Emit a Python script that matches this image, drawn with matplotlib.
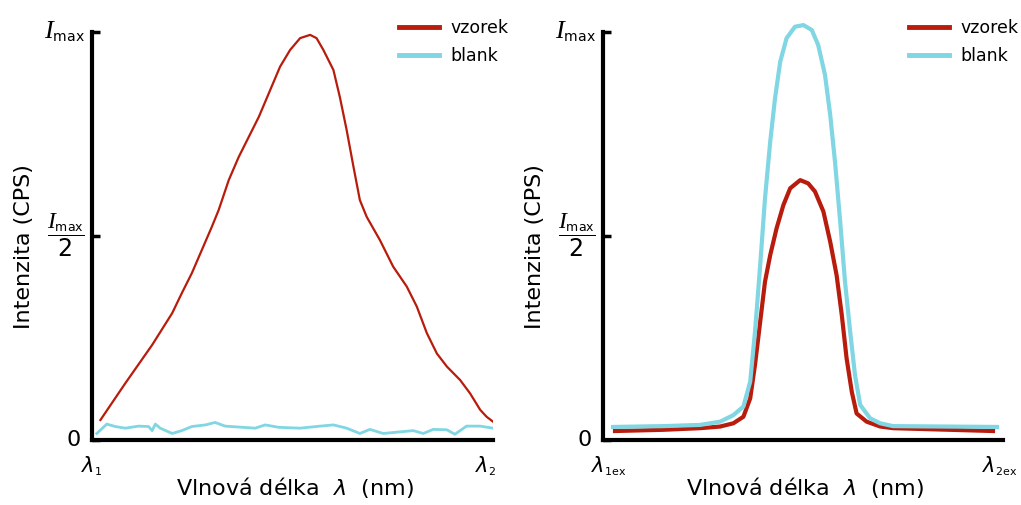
import numpy as np
import matplotlib
matplotlib.use("Agg")
import matplotlib.pyplot as plt
from matplotlib.transforms import ScaledTranslation
import matplotlib._mathtext as mt

plt.rcParams['font.family'] = ['DejaVu Sans']
plt.rcParams['mathtext.fontset'] = 'custom'
plt.rcParams['mathtext.rm'] = 'DejaVu Sans'
plt.rcParams['mathtext.it'] = 'Liberation Serif:italic'
plt.rcParams['mathtext.sf'] = 'DejaVu Sans:oblique'
# subscripts (max, 1ex) are much smaller than the main glyph in the original
mt.SHRINK_FACTOR = 0.53

RED = '#B81C0C'
BLUE = '#80D6E2'

# left panel: emission spectrum (relative intensity, Imax = 1)
em_x_vzorek = [0.021, 0.083, 0.150, 0.200, 0.224, 0.249, 0.274, 0.299, 0.316, 0.341,
               0.366, 0.391, 0.416, 0.441, 0.469, 0.494, 0.519, 0.544, 0.560, 0.577,
               0.602, 0.618, 0.635, 0.652, 0.668, 0.685, 0.718, 0.751, 0.785, 0.810,
               0.835, 0.860, 0.885, 0.918, 0.943, 0.968, 0.984, 1.0]
em_y_vzorek = [0.049, 0.139, 0.233, 0.311, 0.360, 0.409, 0.466, 0.523, 0.564, 0.637,
               0.694, 0.743, 0.792, 0.850, 0.915, 0.956, 0.985, 0.993, 0.985, 0.956,
               0.907, 0.841, 0.760, 0.670, 0.588, 0.547, 0.490, 0.425, 0.376, 0.327,
               0.262, 0.212, 0.180, 0.147, 0.114, 0.074, 0.057, 0.045]
em_x_blank = [0.012, 0.037, 0.058, 0.083, 0.116, 0.141, 0.150, 0.158, 0.170, 0.200,
              0.224, 0.249, 0.283, 0.307, 0.332, 0.407, 0.432, 0.466, 0.519, 0.569,
              0.602, 0.635, 0.668, 0.693, 0.726, 0.801, 0.826, 0.851, 0.885, 0.905,
              0.934, 0.968, 1.0]
em_y_blank = [0.016, 0.039, 0.033, 0.029, 0.034, 0.033, 0.023, 0.039, 0.029, 0.016,
              0.023, 0.033, 0.037, 0.043, 0.034, 0.029, 0.037, 0.031, 0.029, 0.034,
              0.037, 0.029, 0.016, 0.026, 0.016, 0.023, 0.016, 0.026, 0.025, 0.014,
              0.034, 0.034, 0.029]

# right panel: excitation spectrum
ex_x_vzorek = [0.030, 0.150, 0.243, 0.293, 0.326, 0.351, 0.368, 0.380, 0.393, 0.405,
               0.418, 0.434, 0.451, 0.468, 0.493, 0.513, 0.530, 0.551, 0.568, 0.584,
               0.597, 0.609, 0.622, 0.634, 0.659, 0.693, 0.725, 0.975]
ex_y_vzorek = [0.022, 0.025, 0.029, 0.033, 0.041, 0.057, 0.102, 0.184, 0.290, 0.388,
               0.453, 0.519, 0.576, 0.617, 0.637, 0.629, 0.609, 0.560, 0.486, 0.404,
               0.306, 0.200, 0.118, 0.065, 0.045, 0.033, 0.029, 0.022]
ex_x_blank = [0.025, 0.150, 0.243, 0.293, 0.326, 0.351, 0.368, 0.380, 0.393, 0.405,
              0.418, 0.430, 0.443, 0.459, 0.480, 0.501, 0.522, 0.538, 0.555, 0.568,
              0.580, 0.593, 0.605, 0.618, 0.630, 0.643, 0.668, 0.693, 0.725, 0.985]
ex_y_blank = [0.032, 0.034, 0.037, 0.045, 0.061, 0.082, 0.143, 0.265, 0.429, 0.592,
              0.731, 0.837, 0.927, 0.985, 1.013, 1.017, 1.005, 0.968, 0.895, 0.797,
              0.682, 0.535, 0.388, 0.265, 0.159, 0.086, 0.053, 0.041, 0.034, 0.032]

ytick_vals = [0, 0.5, 1]
ytick_labels = ['0', r'$\dfrac{\mathit{I}_{\mathrm{max}}}{2}$', r'$\mathit{I}_{\mathrm{max}}$']
ytick_sizes = [16, 17, 19]
ytick_nudge = [(-4, 2), (0, 9), (0, 4)]  # pixels
xtick_labels_em = [r'$\mathsf{\lambda}_{\mathrm{1}}$', r'$\mathsf{\lambda}_{\mathrm{2}}$']
xtick_labels_ex = [r'$\mathsf{\lambda}_{\mathrm{1ex}}$', r'$\mathsf{\lambda}_{\mathrm{2ex}}$']

fig = plt.figure(figsize=(10.21, 5.05), dpi=100)
H = 424.3 / 505
ax1 = fig.add_axes([92 / 1021, 65 / 505, 401 / 1021, H])
ax2 = fig.add_axes([603 / 1021, 65 / 505, 400 / 1021, H])


def nudge(txt, dx, dy):
    txt.set_transform(txt.get_transform() +
                      ScaledTranslation(dx / 100, dy / 100, fig.dpi_scale_trans))


def style(ax, xlabels, xnudge, legend_right):
    ax.set_xlim(0, 1)
    ax.set_ylim(0, 1.04)
    for s in ['top', 'right']:
        ax.spines[s].set_visible(False)
    for s in ['left', 'bottom']:
        ax.spines[s].set_linewidth(3)
        ax.spines[s].set_capstyle('projecting')
    ax.spines['left'].set_bounds(0, 1)
    ax.set_yticks(ytick_vals)
    ax.set_yticklabels(ytick_labels)
    ax.tick_params(axis='y', direction='in', length=6, width=2.5, pad=5)
    for lab, sz, (dx, dy) in zip(ax.get_yticklabels(), ytick_sizes, ytick_nudge):
        lab.set_fontsize(sz)
        nudge(lab, dx, dy)
    ax.set_xticks([0, 1])
    ax.set_xticklabels(xlabels)
    ax.tick_params(axis='x', length=0, pad=10, labelsize=15)
    for lab, dx in zip(ax.get_xticklabels(), xnudge):
        nudge(lab, dx, 0)
    ax.set_ylabel('Intenzita (CPS)', fontsize=16)
    ax.yaxis.set_label_coords(-0.145, 0.455)
    ax.set_xlabel(r'Vlnová délka  $\mathsf{\lambda}$  (nm)', fontsize=16)
    ax.xaxis.set_label_coords(0.506, -0.082)
    leg = ax.legend(loc='upper right', frameon=False, fontsize=12.5, handlelength=2.3,
                    handletextpad=0.65, labelspacing=0.57, borderpad=0, borderaxespad=0,
                    bbox_to_anchor=(legend_right / 1021, 486 / 505),
                    bbox_transform=fig.transFigure)
    for line in leg.get_lines():
        line.set_linewidth(3.5)


ax1.plot(em_x_vzorek, em_y_vzorek, color=RED, lw=1.6, label='vzorek')
ax1.plot(em_x_blank, em_y_blank, color=BLUE, lw=2.0, label='blank')
style(ax1, xtick_labels_em, (0, -7), 508)

ax2.plot(ex_x_vzorek, ex_y_vzorek, color=RED, lw=3, label='vzorek', clip_on=False)
ax2.plot(ex_x_blank, ex_y_blank, color=BLUE, lw=3, label='blank', clip_on=False)
style(ax2, xtick_labels_ex, (6, -3), 1018)

fig.savefig('out.png', dpi=100)
